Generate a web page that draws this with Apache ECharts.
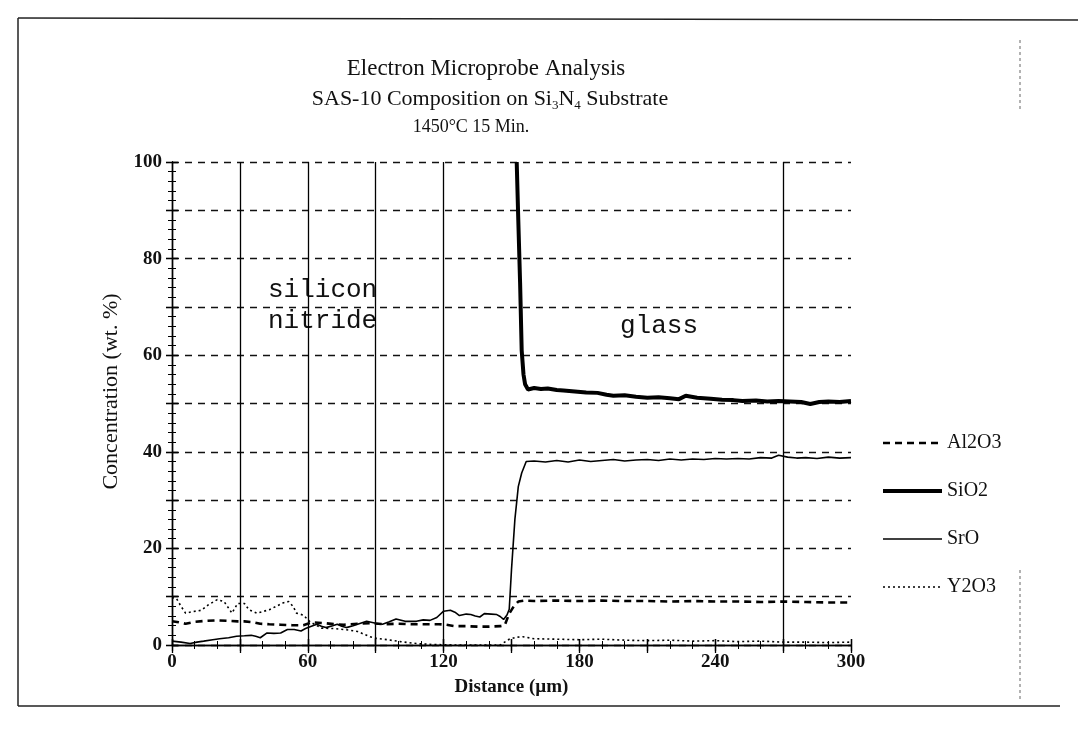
<!DOCTYPE html>
<html>
<head>
<meta charset="utf-8">
<script src="https://cdn.jsdelivr.net/npm/echarts@6/dist/echarts.min.js"></script>
<style>
html,body{margin:0;padding:0;background:#fff;}
#chart{width:1078px;height:735px;}
</style>
</head>
<body>
<div id="chart"></div>
<script>
// ---- Data ----
const titleText = 'Electron Microprobe Analysis';
const subtitleText = 'SAS-10 Composition on Si{sub|3}N{sub|4} Substrate';
const conditionText = '1450°C 15 Min.';
const xAxisName = 'Distance (µm)';
const yAxisName = 'Concentration (wt. %)';
const seriesNames = ['Al2O3', 'SiO2', 'SrO', 'Y2O3'];
const xTickLabels = [0, 60, 120, 180, 240, 300];
const yTickLabels = [0, 20, 40, 60, 80, 100];
const verticalGridAt = [30, 60, 90, 120, 270];

const al2o3 = [[0,4.9],[3,4.7],[6,4.4],[10,4.8],[15,5.0],[20,5.1],[25,5.0],[29,4.9],[32,4.9],[36,4.7],[39,4.4],[43,4.3],[48,4.2],[53,4.1],[58,4.1],[62,4.7],[68,4.5],[72,4.3],[76,4.2],[82,4.4],[88,4.5],[94,4.3],[100,4.4],[106,4.3],[112,4.3],[118,4.3],[121,4.2],[125,3.9],[130,3.9],[135,3.8],[140,3.8],[145,3.9],[147,4.1],[149,6.5],[151,8.0],[153,9.0],[156,9.2],[160,9.1],[170,9.2],[180,9.1],[190,9.2],[200,9.1],[210,9.1],[220,9.0],[230,9.1],[240,9.0],[250,9.0],[260,8.9],[270,9.0],[280,8.9],[290,8.8],[300,8.8]];

const sio2 = [[152.3,100],[153,88],[153.8,75],[154.5,61],[155.3,56],[156,54],[157.3,52.9],[158,53.3],[160,53.2],[163,53.0],[166,53.1],[170,52.8],[173,52.7],[178,52.5],[183,52.3],[188,52.2],[192,51.8],[195,51.6],[200,51.7],[205,51.4],[210,51.2],[215,51.3],[220,51.1],[224,50.9],[227,51.6],[232,51.2],[238,51.0],[243,50.8],[248,50.7],[252,50.5],[258,50.6],[263,50.4],[268,50.5],[273,50.4],[278,50.3],[282,49.9],[286,50.3],[290,50.4],[295,50.3],[300,50.5]];

const sro = [[0,0.8],[4,0.6],[8,0.3],[11,0.6],[14,0.8],[18,1.1],[21,1.3],[25,1.5],[28.5,1.8],[32,1.9],[35,2.0],[37,1.8],[39,1.5],[42,2.5],[45,2.4],[48,2.5],[51,3.2],[54,3.2],[57,2.9],[59,3.4],[61,3.8],[64,4.3],[66,3.9],[68,3.6],[71,4.0],[73,4.3],[75,3.9],[77,3.6],[80,4.0],[82,4.3],[86,4.9],[90,4.5],[93,4.3],[96,4.8],[99,5.4],[103,4.9],[108,4.9],[111,5.2],[114,5.1],[117,5.7],[120,7.0],[123,7.2],[125,6.8],[127,6.1],[130,6.4],[132,6.3],[134,6.0],[136,5.8],[138,6.5],[141,6.4],[143.5,6.3],[145,5.9],[146.5,5.3],[148,6.2],[149,7.4],[150,15.6],[151.5,26],[153,32.8],[154.5,35.6],[156.5,38.0],[160,38.1],[165,37.9],[170,38.2],[175,37.9],[180,38.3],[185,38.0],[190,38.2],[195,38.4],[200,38.1],[205,38.3],[210,38.4],[215,38.2],[220,38.5],[225,38.3],[230,38.5],[235,38.4],[240,38.6],[245,38.5],[250,38.6],[255,38.5],[260,38.8],[265,38.7],[268,39.3],[272,38.9],[276,38.7],[280,38.8],[285,38.6],[290,38.9],[295,38.7],[300,38.8]];

const y2o3 = [[0,9.8],[2,9.6],[4,8.0],[6,6.6],[9,6.9],[13,7.2],[16,8.3],[20,9.4],[23,9.0],[26.5,6.6],[29,8.6],[32,8.6],[34,7.3],[37.5,6.6],[43,7.3],[46,8.0],[49,8.7],[51.5,9.0],[53.5,8.0],[55,6.6],[58,6.2],[61,4.8],[66,3.5],[72,3.4],[78,3.1],[82,2.8],[87.5,1.7],[90,1.4],[95,1.1],[101,0.7],[108,0.3],[115,0.1],[125,0],[135,0],[145,0],[149,1.2],[152,1.6],[155,1.7],[160,1.3],[170,1.2],[180,1.1],[190,1.2],[200,1.0],[210,0.9],[220,1.0],[230,0.8],[240,0.9],[250,0.7],[260,0.8],[270,0.6],[280,0.6],[290,0.5],[300,0.6]];

const annotationSilicon = 'silicon\nnitride';
const annotationGlass = 'glass';

// ---- Chart ----
const SERIF = '"Liberation Serif", "DejaVu Serif", serif';
const MONO = '"Liberation Mono", "DejaVu Sans Mono", monospace';
const chart = echarts.init(document.getElementById('chart'), null, {renderer: 'canvas'});

const gridBox = {left: 172, right: 227, top: 162, bottom: 90};
const baseX = {type: 'value', min: 0, max: 300, interval: 30, gridIndex: 0, splitLine: {show: false}};
const baseY = {type: 'value', min: 0, max: 100, interval: 10, gridIndex: 0};
const axisBlack = {lineStyle: {color: '#000', width: 1.4}};

const option = {
  backgroundColor: '#fff',
  animation: false,
  grid: gridBox,
  graphic: [
    {type: 'line', shape: {x1: 18, y1: 18, x2: 1078, y2: 20}, style: {stroke: '#222', lineWidth: 1.5}},
    {type: 'line', shape: {x1: 18, y1: 18, x2: 18, y2: 706}, style: {stroke: '#222', lineWidth: 1.5}},
    {type: 'line', shape: {x1: 18, y1: 706, x2: 1060, y2: 706}, style: {stroke: '#222', lineWidth: 1.5}},
    {type: 'line', shape: {x1: 1020, y1: 40, x2: 1020, y2: 110}, style: {stroke: '#666', lineWidth: 1, lineDash: [3, 3]}},
    {type: 'line', shape: {x1: 1020, y1: 570, x2: 1020, y2: 700}, style: {stroke: '#666', lineWidth: 1, lineDash: [3, 3]}},
    {type: 'text', x: 486, y: 69, style: {text: titleText, font: '23px ' + SERIF, fill: '#111', align: 'center', verticalAlign: 'middle'}},
    {type: 'text', x: 490, y: 99, style: {text: subtitleText, font: '22px ' + SERIF, fill: '#111', align: 'center', verticalAlign: 'middle',
      rich: {sub: {fontSize: 13, fontFamily: SERIF, fill: '#111', padding: [14, 0, 0, 0]}}}},
    {type: 'text', x: 471, y: 127, style: {text: conditionText, font: '18px ' + SERIF, fill: '#111', align: 'center', verticalAlign: 'middle'}},
    {type: 'text', x: 268, y: 275, style: {text: annotationSilicon, font: '26px ' + MONO, fill: '#111', lineHeight: 31}},
    {type: 'text', x: 620, y: 313, style: {text: annotationGlass, font: '26px ' + MONO, fill: '#111'}}
  ],
  legend: {
    orient: 'vertical', left: 876, top: 428, itemWidth: 59, itemHeight: 14, itemGap: 28,
    data: seriesNames,
    itemStyle: {opacity: 0},
    lineStyle: {width: 'inherit'},
    textStyle: {fontFamily: SERIF, fontSize: 20, color: '#111'}
  },
  xAxis: [
    Object.assign({}, baseX, {position: 'bottom', name: xAxisName, nameLocation: 'middle', nameGap: 33,
      nameTextStyle: {fontFamily: SERIF, fontSize: 19, fontWeight: 'bold', color: '#111'},
      axisLine: axisBlack, axisTick: {show: true, inside: false, length: 6, lineStyle: {color: '#000', width: 1.3}},
      axisLabel: {margin: 8, fontFamily: SERIF, fontSize: 19, fontWeight: 'bold', color: '#111',
        formatter: v => xTickLabels.indexOf(v) >= 0 ? String(v) : ''}}),
    Object.assign({}, baseX, {position: 'bottom', axisLine: {show: false}, axisLabel: {show: false},
      axisTick: {show: true, inside: true, length: 6, lineStyle: {color: '#000', width: 1.3}},
      minorTick: {show: true, splitNumber: 3, length: 4, lineStyle: {color: '#000', width: 1}}}),
    Object.assign({}, baseX, {position: 'top', axisLine: axisBlack, axisLabel: {show: false},
      axisTick: {show: true, inside: true, length: 8, lineStyle: {color: '#000', width: 1.3}},
      minorTick: {show: true, splitNumber: 3, length: 4, lineStyle: {color: '#000', width: 1}}}),
    Object.assign({}, baseX, {position: 'top', axisLine: {show: false}, axisLabel: {show: false},
      axisTick: {show: true, inside: false, length: 6, lineStyle: {color: '#000', width: 1.3}}})
  ],
  yAxis: [
    Object.assign({}, baseY, {position: 'left', name: yAxisName, nameLocation: 'middle', nameGap: 46,
      nameTextStyle: {fontFamily: SERIF, fontSize: 22, color: '#111', padding: [0, 0, 0, 24]},
      axisLine: {show: true, lineStyle: {color: '#000', width: 1.4}},
      axisTick: {show: true, inside: false, length: 6, lineStyle: {color: '#000', width: 1.3}},
      axisLabel: {margin: 10, fontFamily: SERIF, fontSize: 19, fontWeight: 'bold', color: '#111',
        formatter: v => yTickLabels.indexOf(v) >= 0 ? String(v) : ''},
      splitLine: {show: true, lineStyle: {color: '#111', width: 1.3, type: [7, 6]}}}),
    Object.assign({}, baseY, {position: 'left', axisLine: {show: false}, axisLabel: {show: false}, splitLine: {show: false},
      axisTick: {show: true, inside: true, length: 6, lineStyle: {color: '#000', width: 1.3}},
      minorTick: {show: true, splitNumber: 5, length: 4, lineStyle: {color: '#000', width: 1}}}),
    Object.assign({}, baseY, {position: 'right', axisLine: {show: true, lineStyle: {color: '#000', width: 1.4}}, axisLabel: {show: false}, splitLine: {show: false},
      axisTick: {show: true, inside: true, length: 6, lineStyle: {color: '#000', width: 1.3}},
      minorTick: {show: true, splitNumber: 5, length: 4, lineStyle: {color: '#000', width: 1}}}),
    Object.assign({}, baseY, {position: 'right', axisLine: {show: false}, axisLabel: {show: false}, splitLine: {show: false},
      axisTick: {show: true, inside: false, length: 6, lineStyle: {color: '#000', width: 1.3}}})
  ],
  series: [
    {name: seriesNames[0], type: 'line', data: al2o3, symbol: 'none', smooth: false,
      lineStyle: {color: '#000', width: 2.6, type: [7, 5]}, itemStyle: {color: '#000'}},
    {name: seriesNames[1], type: 'line', data: sio2, symbol: 'none',
      lineStyle: {color: '#000', width: 4}, itemStyle: {color: '#000'}},
    {name: seriesNames[2], type: 'line', data: sro, symbol: 'none',
      lineStyle: {color: '#000', width: 1.6}, itemStyle: {color: '#000'},
      markLine: {silent: true, symbol: 'none', label: {show: false}, animation: false,
        lineStyle: {color: '#000', width: 1.3, type: 'solid'},
        data: verticalGridAt.map(v => ({xAxis: v}))}},
    {name: seriesNames[3], type: 'line', data: y2o3, symbol: 'none',
      lineStyle: {color: '#000', width: 1.6, type: [2, 3]}, itemStyle: {color: '#000'}}
  ]
};
chart.setOption(option);
</script>
</body>
</html>
